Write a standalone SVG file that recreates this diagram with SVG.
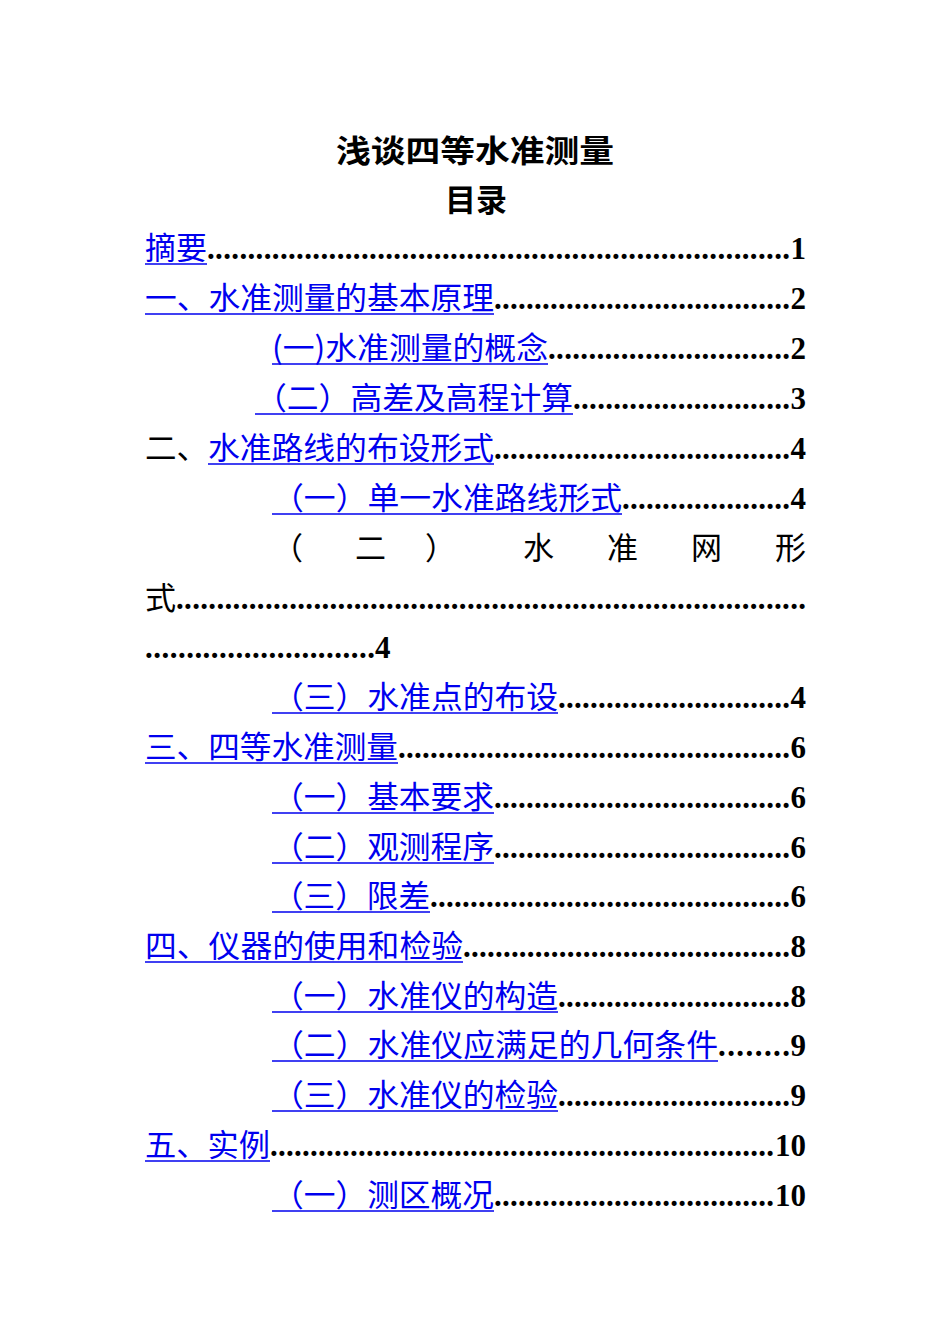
<svg xmlns="http://www.w3.org/2000/svg" width="950" height="1344" viewBox="0 0 950 1344">
<style>
text{font-family:"Liberation Serif","Noto Sans CJK SC",serif;font-size:31px;font-weight:bold;fill:#000}
.c{font-family:"Noto Sans CJK SC",sans-serif;font-weight:normal}
.l{fill:#0000ee}
.n{text-anchor:end}
line{stroke:#0000ee;stroke-width:1.5}
</style>
<rect width="950" height="1344" fill="#fff"/>
<text class="c" x="475" y="162" text-anchor="middle" font-size="33" style="font-weight:bold" textLength="278" lengthAdjust="spacingAndGlyphs">浅谈四等水准测量</text>
<text class="c" x="476" y="211" text-anchor="middle" font-size="33" style="font-weight:bold">目录</text>

<text class="c l" x="145" y="259" textLength="62" lengthAdjust="spacingAndGlyphs">摘要</text><line x1="145" y1="264" x2="207" y2="264"/>
<text x="207" y="259" textLength="583" lengthAdjust="spacing">........................................................................</text><text class="n" x="806" y="259">1</text>

<text class="c l" x="145" y="309" textLength="349" lengthAdjust="spacingAndGlyphs">一、水准测量的基本原理</text><line x1="145" y1="314" x2="494" y2="314"/>
<text x="494" y="309" textLength="296" lengthAdjust="spacing">.....................................</text><text class="n" x="806" y="309">2</text>

<text class="c l" x="272" y="359" textLength="276" lengthAdjust="spacingAndGlyphs">(一)水准测量的概念</text><line x1="272" y1="364" x2="548" y2="364"/>
<text x="548" y="359" textLength="242" lengthAdjust="spacing">..............................</text><text class="n" x="806" y="359">2</text>

<text class="c l" x="255" y="409" textLength="318" lengthAdjust="spacingAndGlyphs">（二）高差及高程计算</text><line x1="255" y1="414" x2="573" y2="414"/>
<text x="573" y="409" textLength="217" lengthAdjust="spacing">...........................</text><text class="n" x="806" y="409">3</text>

<text class="c" x="145" y="459" textLength="63" lengthAdjust="spacingAndGlyphs">二、</text>
<text class="c l" x="208" y="459" textLength="286" lengthAdjust="spacingAndGlyphs">水准路线的布设形式</text><line x1="208" y1="464" x2="494" y2="464"/>
<text x="494" y="459" textLength="296" lengthAdjust="spacing">.....................................</text><text class="n" x="806" y="459">4</text>

<text class="c l" x="272" y="509" textLength="350" lengthAdjust="spacingAndGlyphs">（一）单一水准路线形式</text><line x1="272" y1="514" x2="622" y2="514"/>
<text x="622" y="509" textLength="168" lengthAdjust="spacing">.....................</text><text class="n" x="806" y="509">4</text>

<g class="c">
<text class="c" x="272" y="559">（</text><text class="c" x="355" y="559">二</text><text class="c" x="425" y="559">）</text><text class="c" x="523" y="559">水</text><text class="c" x="607" y="559">准</text><text class="c" x="691" y="559">网</text><text class="c" x="775" y="559">形</text>
</g>
<text class="c" x="145" y="609">式</text>
<text x="176" y="609" textLength="630" lengthAdjust="spacing">..............................................................................</text>
<text x="145" y="658" textLength="230" lengthAdjust="spacing">............................</text><text x="375" y="658">4</text>

<text class="c l" x="272" y="708" textLength="286" lengthAdjust="spacingAndGlyphs">（三）水准点的布设</text><line x1="272" y1="713" x2="558" y2="713"/>
<text x="558" y="708" textLength="232" lengthAdjust="spacing">.............................</text><text class="n" x="806" y="708">4</text>

<text class="c l" x="145" y="758" textLength="253" lengthAdjust="spacingAndGlyphs">三、四等水准测量</text><line x1="145" y1="763" x2="398" y2="763"/>
<text x="398" y="758" textLength="392" lengthAdjust="spacing">.................................................</text><text class="n" x="806" y="758">6</text>

<text class="c l" x="272" y="808" textLength="222" lengthAdjust="spacingAndGlyphs">（一）基本要求</text><line x1="272" y1="813" x2="494" y2="813"/>
<text x="494" y="808" textLength="296" lengthAdjust="spacing">.....................................</text><text class="n" x="806" y="808">6</text>

<text class="c l" x="272" y="858" textLength="222" lengthAdjust="spacingAndGlyphs">（二）观测程序</text><line x1="272" y1="863" x2="494" y2="863"/>
<text x="494" y="858" textLength="296" lengthAdjust="spacing">.....................................</text><text class="n" x="806" y="858">6</text>

<text class="c l" x="272" y="907" textLength="158" lengthAdjust="spacingAndGlyphs">（三）限差</text><line x1="272" y1="912" x2="430" y2="912"/>
<text x="430" y="907" textLength="360" lengthAdjust="spacing">.............................................</text><text class="n" x="806" y="907">6</text>

<text class="c l" x="145" y="957" textLength="318" lengthAdjust="spacingAndGlyphs">四、仪器的使用和检验</text><line x1="145" y1="962" x2="463" y2="962"/>
<text x="463" y="957" textLength="327" lengthAdjust="spacing">.........................................</text><text class="n" x="806" y="957">8</text>

<text class="c l" x="272" y="1007" textLength="286" lengthAdjust="spacingAndGlyphs">（一）水准仪的构造</text><line x1="272" y1="1012" x2="558" y2="1012"/>
<text x="558" y="1007" textLength="232" lengthAdjust="spacing">.............................</text><text class="n" x="806" y="1007">8</text>

<text class="c l" x="272" y="1056" textLength="446" lengthAdjust="spacingAndGlyphs">（二）水准仪应满足的几何条件</text><line x1="272" y1="1061" x2="718" y2="1061"/>
<text x="718" y="1056" textLength="72" lengthAdjust="spacing">........</text><text class="n" x="806" y="1056">9</text>

<text class="c l" x="272" y="1106" textLength="286" lengthAdjust="spacingAndGlyphs">（三）水准仪的检验</text><line x1="272" y1="1111" x2="558" y2="1111"/>
<text x="558" y="1106" textLength="232" lengthAdjust="spacing">.............................</text><text class="n" x="806" y="1106">9</text>

<text class="c l" x="145" y="1156" textLength="125" lengthAdjust="spacingAndGlyphs">五、实例</text><line x1="145" y1="1161" x2="270" y2="1161"/>
<text x="270" y="1156" textLength="504" lengthAdjust="spacing">...............................................................</text><text class="n" x="806" y="1156">10</text>

<text class="c l" x="272" y="1206" textLength="222" lengthAdjust="spacingAndGlyphs">（一）测区概况</text><line x1="272" y1="1211" x2="494" y2="1211"/>
<text x="494" y="1206" textLength="280" lengthAdjust="spacing">...................................</text><text class="n" x="806" y="1206">10</text>
</svg>
